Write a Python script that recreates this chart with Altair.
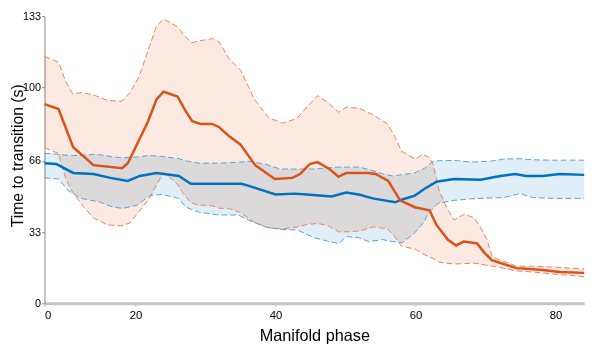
import altair as alt
import pandas as pd

# ---------------- data ----------------
# Orange series: mean line
orange_x = [7.0, 9.0, 11.1, 14.0, 18.1, 18.9, 21.75, 23.0, 24.0, 26.0, 27.1, 28.1, 29.3, 30.9,
            31.9, 33.3, 35.0, 37.1, 39.9, 42.4, 43.5, 44.9, 46.0, 47.7, 49.0, 50.1, 53.3, 54.3,
            56.1, 57.8, 59.9, 62.0, 63.0, 64.6, 65.8, 66.9, 68.8, 69.8, 70.9, 72.6, 74.4, 76.4,
            78.2, 80.6, 84.1]
orange_mean = [92.3, 90.0, 72.3, 64.0, 62.6, 64.9, 84.0, 94.4, 98.0, 95.8, 89.4, 84.4, 83.1, 83.1,
               81.7, 77.6, 73.5, 64.0, 57.6, 58.1, 59.9, 64.5, 65.4, 62.2, 58.6, 60.4, 60.4, 59.9,
               56.7, 47.7, 44.5, 43.1, 36.3, 29.5, 26.8, 28.6, 27.7, 23.6, 20.0, 18.2, 16.3, 15.9,
               15.4, 14.5, 14.1]
# Orange series: spread band
orange_band_x = [7, 9, 10, 11, 12.5, 14, 16, 18, 19.2, 20.5, 22, 23, 24, 25, 26, 27, 28, 29, 31,
                 32, 33.3, 35, 37, 39, 41, 43, 44.5, 46, 47.5, 49, 50.1, 52, 54, 56, 57, 58, 60,
                 61, 62, 62.5, 63.4, 64.4, 65.5, 67, 68.4, 69.5, 70.2, 71, 72.6, 74.4, 76.8,
                 79.6, 84.1]
orange_upper = [114.4, 111.7, 103.0, 97.1, 97.6, 96.5, 94.0, 93.5, 97.6, 105.0, 119.0, 128.5,
                131.6, 130.0, 128.0, 124.0, 120.7, 121.5, 122.6, 121.0, 113.5, 108.0, 94.5,
                86.0, 83.5, 85.5, 91.0, 96.2, 93.0, 88.5, 90.8, 90.3, 87.2, 83.1, 77.5, 70.5,
                66.7, 69.0, 67.5, 64.5, 52.2, 44.5, 38.6, 41.3, 39.5, 34.0, 29.5, 21.3, 19.5,
                17.2, 17.2, 16.8, 15.9]
orange_lower = [72.2, 69.4, 58.0, 51.5, 45.0, 39.5, 36.3, 35.9, 37.2, 42.5, 48.5, 55.0, 60.4,
                58.0, 55.0, 50.0, 46.5, 45.5, 45.2, 44.0, 44.0, 42.0, 37.5, 35.0, 34.5, 35.3,
                36.5, 37.0, 36.0, 33.1, 33.1, 33.5, 35.4, 34.5, 31.0, 26.5, 25.0, 23.0, 21.5,
                20.8, 19.0, 18.6, 18.2, 18.4, 18.6, 18.0, 17.6, 17.2, 16.2, 15.0, 14.5, 13.6,
                12.3]

# Blue series: mean line
blue_x = [7.0, 8.7, 11.1, 14.0, 16.4, 18.9, 20.6, 23.0, 26.2, 27.9, 31.9, 35.1, 36.1, 40.0,
          42.7, 44.5, 48.0, 50.1, 51.9, 53.9, 57.1, 58.1, 59.9, 61.3, 63.0, 65.5, 69.3, 72.1,
          74.2, 75.8, 78.2, 80.6, 84.1]
blue_mean = [64.9, 64.5, 60.4, 59.9, 58.1, 56.7, 59.0, 60.4, 59.0, 55.4, 55.4, 55.4, 54.5, 50.4,
             50.8, 50.4, 49.5, 51.3, 50.4, 48.6, 46.8, 48.1, 49.9, 53.1, 56.3, 57.6, 57.2, 59.0,
             59.9, 59.0, 59.0, 59.9, 59.5]
# Blue series: spread band
blue_band_x = [7, 9, 10.4, 12.2, 14, 15, 16.8, 18.2, 20.2, 22, 23.9, 26.2, 27.2, 29.1, 31.9,
               34.7, 36.1, 38.5, 40.7, 43.1, 45.5, 47.7, 49.1, 50.1, 51.9, 53.3, 55.3, 56.7,
               58.1, 59.9, 61.3, 61.8, 62.5, 63.2, 65.5, 67.9, 70.7, 72.6, 74.9, 76.8, 79.6, 84.1]
blue_upper = [69.5, 69.0, 68.5, 68.5, 69.0, 68.8, 67.8, 67.4, 67.8, 68.5, 68.0, 67.0, 66.0,
              64.9, 64.9, 65.3, 65.8, 64.5, 62.2, 62.2, 62.2, 62.8, 63.1, 63.1, 63.1, 62.0,
              60.0, 59.0, 59.6, 60.4, 62.6, 64.0, 65.8, 66.0, 66.2, 65.4, 65.8, 66.8, 67.0,
              66.5, 66.3, 66.3]
blue_lower = [58.1, 57.6, 52.2, 48.6, 47.5, 46.8, 44.5, 44.0, 45.4, 49.9, 50.4, 48.6, 44.5,
              42.2, 40.9, 40.9, 38.6, 35.4, 34.2, 34.0, 30.4, 28.6, 27.7, 30.9, 30.4, 28.6,
              29.5, 28.6, 28.1, 32.7, 38.0, 41.8, 44.0, 46.3, 47.7, 48.4, 48.8, 49.0, 50.8,
              49.0, 48.6, 48.6]

x_tick_values = [7, 20, 40, 60, 80]
x_first_label = "0"
y_tick_values = [0, 33, 66, 100, 133]

# ---------------- tables ----------------
orange_line_df = pd.DataFrame({"x": orange_x, "y": orange_mean})
blue_line_df = pd.DataFrame({"x": blue_x, "y": blue_mean})
orange_band_df = pd.DataFrame({"x": orange_band_x, "lo": orange_lower, "hi": orange_upper})
blue_band_df = pd.DataFrame({"x": blue_band_x, "lo": blue_lower, "hi": blue_upper})

FONT = "Liberation Sans"
ORANGE = "#d95319"
BLUE = "#0072bd"
W, H = 547, 291

label_expr = f"datum.value == {x_tick_values[0]} ? '{x_first_label}' : datum.label"

xs = alt.Scale(domain=[7, 84.1], nice=False, zero=False)
ys = alt.Scale(domain=[0, 133], nice=False, zero=False)

x_axis = alt.Axis(values=x_tick_values, labelExpr=label_expr, title="Manifold phase",
                  domainColor="#c6c6c6", domainWidth=3, tickColor="#b0b0b0", tickSize=3,
                  labelFont=FONT, labelFontSize=11.5, labelColor="#000", labelPadding=3,
                  titleFont=FONT, titleFontSize=16.5, titleFontWeight="normal", titleColor="#000",
                  titlePadding=7, grid=False)
y_axis = alt.Axis(values=y_tick_values, title="Time to transition (s)",
                  domainColor="#8a8a8a", domainWidth=1, tickColor="#8a8a8a", tickSize=3,
                  labelFont=FONT, labelFontSize=11, labelColor="#000", labelPadding=1,
                  titleFont=FONT, titleFontSize=16, titleFontWeight="normal", titleColor="#000",
                  titleAngle=270, titleAlign="center", titleBaseline="alphabetic",
                  titleX=-22, titleY=141, grid=False)

X = alt.X("x:Q", scale=xs, axis=x_axis)

def Y(field):
    return alt.Y(f"{field}:Q", scale=ys, axis=y_axis)

orange_band = alt.Chart(orange_band_df).mark_area(color="#fbe9e2", opacity=1, blend="multiply").encode(
    x=X, y=Y("lo"), y2="hi:Q")
blue_band = alt.Chart(blue_band_df).mark_area(color="#e0eef8", opacity=1, blend="multiply").encode(
    x=X, y=Y("lo"), y2="hi:Q")

def edge(df, field, color):
    return alt.Chart(df).mark_line(color=color, strokeWidth=1, strokeDash=[6, 3]).encode(
        x=X, y=Y(field))

layers = [
    orange_band, blue_band,
    edge(orange_band_df, "hi", "#e8845c"), edge(orange_band_df, "lo", "#e8845c"),
    edge(blue_band_df, "hi", "#5d9fd3"), edge(blue_band_df, "lo", "#5d9fd3"),
    alt.Chart(blue_line_df).mark_line(color=BLUE, strokeWidth=2.5).encode(x=X, y=Y("y")),
    alt.Chart(orange_line_df).mark_line(color=ORANGE, strokeWidth=2.5).encode(x=X, y=Y("y")),
]

chart = alt.layer(*layers).properties(
    width=W, height=H,
    background="white",
    autosize=alt.AutoSizeParams(type="none"),
    padding={"left": 37, "top": 6, "right": 15, "bottom": 43},
).configure_view(stroke=None)

chart.save("out.html", embed_options={"renderer": "svg", "actions": False})
